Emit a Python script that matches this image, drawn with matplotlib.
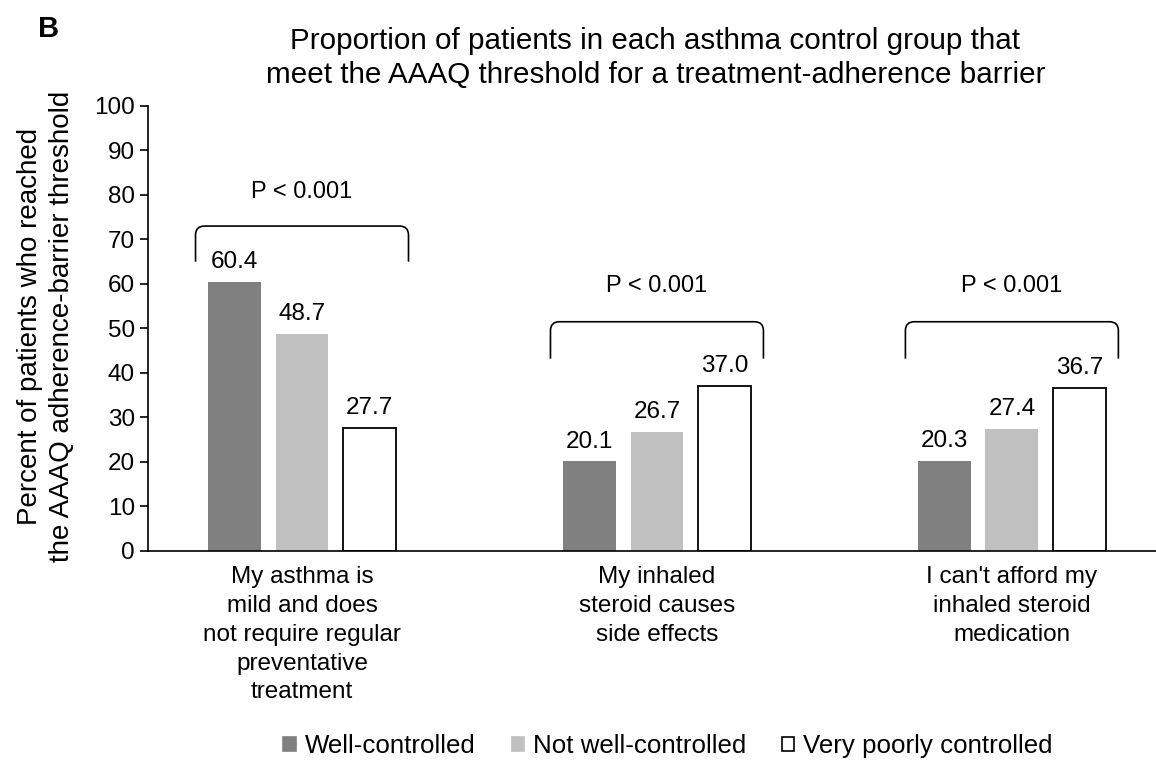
import matplotlib.pyplot as plt
import numpy as np
from matplotlib.path import Path
from matplotlib.patches import PathPatch, Patch

plt.rcParams['font.family'] = ['Liberation Sans', 'DejaVu Sans']

categories = ['My asthma is\nmild and does\nnot require regular\npreventative\ntreatment',
              'My inhaled\nsteroid causes\nside effects',
              "I can't afford my\ninhaled steroid\nmedication"]
series = ['Well-controlled', 'Not well-controlled', 'Very poorly controlled']
wellControlled = [60.4, 20.1, 20.3]
notWellControlled = [48.7, 26.7, 27.4]
veryPoorly = [27.7, 37.0, 36.7]
pLabels = ['P < 0.001', 'P < 0.001', 'P < 0.001']
# bracket top, bracket tips, p-label height (in % units)
bracketTop = [73.0, 51.5, 51.5]
bracketLow = [65.0, 43.2, 43.2]
pTextY = [80.7, 59.6, 59.6]

faceColors = ['#808080', '#c0c0c0', 'white']
edgeColors = ['none', 'none', 'black']

fig = plt.figure(figsize=(11.56, 7.62), dpi=100)
ax = fig.add_axes([0.128, 0.277, 0.872, 0.584])

x = np.arange(len(categories))
offset = 0.19
width = 0.149
allSeries = [wellControlled, notWellControlled, veryPoorly]
for i, vals in enumerate(allSeries):
  xs = x + (i - 1) * offset
  ax.bar(xs, vals, width=width, color=faceColors[i], edgecolor=edgeColors[i],
         linewidth=1.3, label=series[i], zorder=2)
  for xx, v in zip(xs, vals):
    ax.text(xx, v + 2.0, f'{v:.1f}', ha='center', va='bottom', fontsize=17.5)

# brackets with rounded corners
halfW = 0.30
rx = 0.025
ry = 2.0
for g in range(len(categories)):
  x0 = x[g] - halfW
  x1 = x[g] + halfW
  top = bracketTop[g]
  low = bracketLow[g]
  verts = [(x0, low), (x0, top - ry), (x0, top), (x0 + rx, top),
           (x1 - rx, top), (x1, top), (x1, top - ry), (x1, low)]
  codes = [Path.MOVETO, Path.LINETO, Path.CURVE3, Path.CURVE3,
           Path.LINETO, Path.CURVE3, Path.CURVE3, Path.LINETO]
  ax.add_patch(PathPatch(Path(verts, codes), facecolor='none', edgecolor='black', lw=1.2))
  ax.text(x[g], pTextY[g], pLabels[g], ha='center', va='center', fontsize=17)

ax.set_xlim(-0.434, 2.406)
ax.set_ylim(0, 100)
ax.set_yticks(np.arange(0, 101, 10))
ax.set_xticks(x)
ax.set_xticklabels(categories, fontsize=17.5, linespacing=1.4)
ax.tick_params(axis='x', length=0, pad=11)
ax.tick_params(axis='y', labelsize=17.5, length=6, width=1.2, direction='out')
ax.spines['top'].set_visible(False)
ax.spines['right'].set_visible(False)
ax.spines['left'].set_linewidth(1.2)
ax.spines['bottom'].set_linewidth(1.2)

fig.text(0.040, 0.572, 'Percent of patients who reached\nthe AAAQ adherence-barrier threshold',
         rotation=90, ha='center', va='center', fontsize=20, linespacing=1.3)

fig.text(0.567, 0.924, 'Proportion of patients in each asthma control group that\n'
         'meet the AAAQ threshold for a treatment-adherence barrier',
         ha='center', va='center', fontsize=21.3, linespacing=1.25)
fig.text(0.033, 0.962, 'B', fontsize=21, fontweight='bold', ha='left', va='center')

handles = [Patch(facecolor=faceColors[i], edgecolor=('black' if i == 2 else faceColors[i]),
                 linewidth=1.2) for i in range(3)]
fig.legend(handles, series, loc='center', bbox_to_anchor=(0.578, 0.021), ncol=3,
           frameon=False, fontsize=18.6, handlelength=0.47, handleheight=0.47,
           handletextpad=0.35, columnspacing=1.4)

plt.savefig('out.png', dpi=100)
